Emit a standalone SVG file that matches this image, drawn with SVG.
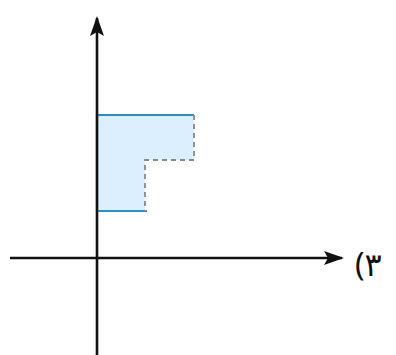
<svg xmlns="http://www.w3.org/2000/svg" width="396" height="355" viewBox="0 0 396 355">
<defs>
<marker id="ah" markerWidth="20" markerHeight="16" refX="18" refY="8" orient="auto" markerUnits="userSpaceOnUse" viewBox="0 0 20 16">
<path d="M0,1 L20,8 L0,15 L4,8 Z" fill="#111"/>
</marker>
</defs>
<style>
.ax{stroke:#111;stroke-width:2.6;fill:none}
.sol{stroke:#2f8fbf;stroke-width:2.2;fill:none}
.dash{stroke:#888;stroke-width:1.8;stroke-dasharray:5,4;fill:none}
</style>
<rect width="396" height="355" fill="#fff"/>
<g id="shape">
<path d="M97,115 L194,115 L194,160 L145,160 L145,211 L97,211 Z" fill="#dcefff"/>
<path class="sol" d="M97,211 L97,115 L194,115"/>
<path class="sol" d="M97,211 L147,211"/>
<path class="dash" d="M194,115 L194,160 L145,160 L145,211"/>
</g>
<g id="connectors">
<line class="ax" x1="97" y1="355" x2="97" y2="18" marker-end="url(#ah)"/>
<line class="ax" x1="10" y1="258" x2="342" y2="258" marker-end="url(#ah)"/>
</g>
<g id="label">
<text x="355" y="276" direction="ltr" unicode-bidi="bidi-override" style="unicode-bidi:bidi-override;direction:ltr" font-family="'Noto Sans', 'DejaVu Sans', sans-serif" font-size="32" fill="#111">(۳</text>
</g>
</svg>
